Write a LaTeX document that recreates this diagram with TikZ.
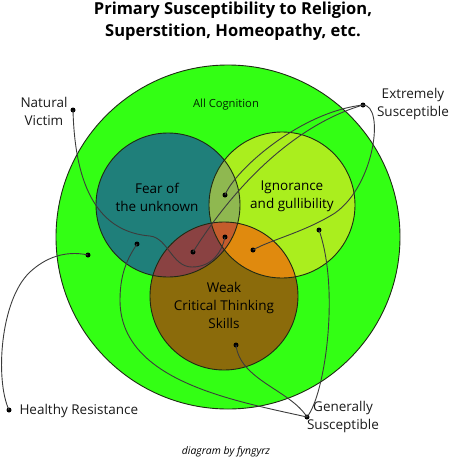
\documentclass[tikz,border=0pt]{standalone}
\usepackage{fontspec}
\setmainfont{Open Sans}
\definecolor{allgreen}{HTML}{33FF14}
\definecolor{feartea}{HTML}{1F7F7A}
\definecolor{ignlime}{HTML}{AAEE1E}
\definecolor{weakbrn}{HTML}{8B6B0B}
\definecolor{fiolive}{HTML}{8FB850}
\definecolor{fwred}{HTML}{8A4242}
\definecolor{iwora}{HTML}{E08A0E}
\definecolor{fiwred}{HTML}{C45C2C}
\definecolor{rimdark}{HTML}{1F2A14}
\definecolor{inkdark}{HTML}{1A1A1A}
\usepackage{tikz}
\usetikzlibrary{positioning,calc}

\tikzset{
  rim/.style={draw=rimdark,line width=0.9pt},
  link/.style={draw=inkdark!85,line width=0.9pt},
  dot/.style={circle,fill=black,inner sep=0pt,minimum size=5pt},
  lbl/.style={text=inkdark,align=center,font=\fontsize{13.5}{18}\selectfont},
  inlbl/.style={text=black,align=center,font=\fontsize{13.5}{18}\selectfont},
}

\begin{document}
\begin{tikzpicture}[x=1pt,y=-1pt]
  \useasboundingbox (0,0) rectangle (450,459);

  %% Title
  \node[font=\fontsize{16.5}{22}\selectfont\bfseries,align=center] (title) at (233,21)
    {Primary Susceptibility to Religion,\\Superstition, Homeopathy, etc.};

  %% Circles
  \coordinate (allC)  at (228,237);
  \coordinate (fearC) at (168,205);
  \coordinate (ignC)  at (282,205);
  \coordinate (weakC) at (224,296);

  \fill[allgreen] (allC) circle (172pt);
  \draw[rim] (allC) circle (172pt);
  \fill[feartea] (fearC) circle (72pt);
  \fill[ignlime] (ignC) circle (73pt);
  \fill[weakbrn] (weakC) circle (74pt);
  \begin{scope}
    \clip (fearC) circle (72pt);
    \fill[fiolive] (ignC) circle (73pt);
    \fill[fwred] (weakC) circle (74pt);
    \clip (ignC) circle (73pt);
    \fill[fiwred] (weakC) circle (74pt);
  \end{scope}
  \begin{scope}
    \clip (ignC) circle (73pt);
    \fill[iwora] (weakC) circle (74pt);
    \clip (fearC) circle (72pt);
    \fill[fiwred] (weakC) circle (74pt);
  \end{scope}
  \draw[rim] (fearC) circle (72pt);
  \draw[rim] (ignC) circle (73pt);
  \draw[rim] (weakC) circle (74pt);

  %% Circle texts
  \node[font=\fontsize{11.2}{13}\selectfont,text=black!85!green] (allT) at (226,105) {All Cognition};
  \node[inlbl] (fearT) at (157,197) {Fear of\\the unknown};
  \node[inlbl] (ignT)  at (292,196) {Ignorance\\and gullibility};
  \node[inlbl] (weakT) at (224,305) {Weak\\Critical Thinking\\Skills};

  %% Outside labels
  \node[lbl] (nvT) at (44,111) {Natural\\Victim};
  \node[lbl] (esT) at (413,104) {Extremely\\Susceptible};
  \node[lbl] (gsT) at (343,417) {Generally\\Susceptible};
  \node[lbl,anchor=west] (hrT) at (16,411) {Healthy Resistance};
  \node[font=\fontsize{10.4}{12}\selectfont\itshape] (credit) at (226,452) {diagram by fyngyrz};

  %% Dots
  \node[dot] (nv) at (73,110) {};
  \node[dot] (es) at (363,105) {};
  \node[dot] (gs) at (307,417) {};
  \node[dot] (hr) at (9,410) {};
  \node[dot] (fiw) at (225,237) {};
  \node[dot] (fi) at (225,195) {};
  \node[dot] (fw) at (193,252) {};
  \node[dot] (iw) at (253,250) {};
  \node[dot] (w) at (236,345) {};
  \node[dot] (i) at (319,230) {};
  \node[dot] (f) at (137,244) {};
  \node[dot] (g) at (88,255) {};

  %% Connectors
  \draw[link] (nv.center) .. controls (75,190) and (100,232) .. (150,236)
    .. controls (168,238) and (172,267) .. (192,267)
    .. controls (212,267) and (222,252) .. (fiw.center);
  \draw[link] (es.center) .. controls (300,112) and (235,170) .. (fi.center);
  \draw[link] (es.center) .. controls (295,125) and (235,185) .. (fw.center);
  \draw[link] (es.center) .. controls (385,105) and (375,185) .. (335,213)
    .. controls (305,232) and (270,240) .. (iw.center);
  \draw[link] (gs.center) .. controls (290,390) and (240,380) .. (w.center);
  \draw[link] (gs.center) .. controls (325,395) and (340,290) .. (i.center);
  \draw[link] (gs.center) .. controls (230,400) and (120,380) .. (120,300)
    .. controls (120,270) and (130,255) .. (f.center);
  \draw[link] (hr.center) .. controls (-5,380) and (0,300) .. (30,272)
    .. controls (45,258) and (65,250) .. (g.center);
\end{tikzpicture}
\end{document}
